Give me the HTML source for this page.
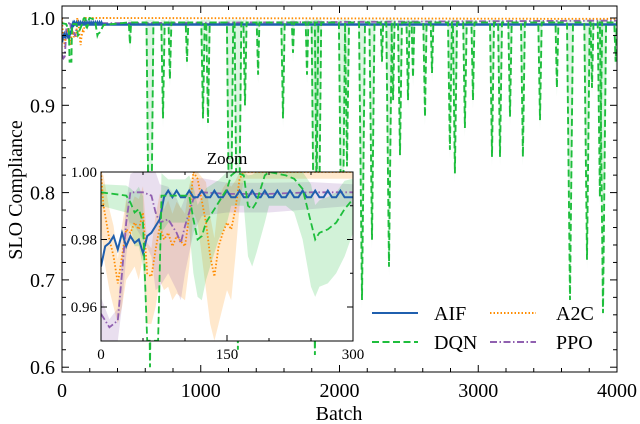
<!DOCTYPE html>
<html><head><meta charset="utf-8"><style>
html,body{margin:0;padding:0;background:#fff;}
svg{display:block;font-family:"Liberation Serif",serif;}
</style></head><body>
<svg id="c" width="640" height="424" viewBox="0 0 640 424"></svg>
<script>
// ---------- data ----------
const aifX = [0,5,10,15,20,25,30,35,40,45,50,55,60,65,70,75,80,85,90,95,100,105,110,115,120,125,130,135,140,145,150,155,160,165,170,175,180,185,190,195,200,205,210,215,220,225,230,235,240,245,250,255,260,265,270,275,280,285,290,295,300];
const aifY = [0.972,0.978,0.979,0.981,0.977,0.982,0.978,0.981,0.979,0.980,0.976,0.981,0.982,0.984,0.986,0.9925,0.9945,0.9925,0.9945,0.9925,0.9925,0.9945,0.9925,0.9925,0.9945,0.9925,0.9925,0.9945,0.9925,0.9925,0.9945,0.9925,0.9925,0.9945,0.9925,0.9925,0.9945,0.9925,0.9925,0.9945,0.9925,0.9925,0.9945,0.9925,0.9925,0.9945,0.9925,0.9925,0.9945,0.9925,0.9925,0.9945,0.9925,0.9925,0.9945,0.9925,0.9925,0.9945,0.9925,0.9925,0.9925];
const ppoX = [0,10,20,25,30,35,40,50,60,65,70,80,90,95,100,110,120,150,200,250,300];
const ppoY = [0.958,0.954,0.956,0.970,0.985,0.994,0.994,0.994,0.993,0.988,0.985,0.986,0.982,0.979,0.984,0.992,0.994,0.9935,0.9935,0.994,0.994];
const ppoLow = [0.950,0.950,0.950,0.960,0.975,0.985,0.984,0.980,0.975,0.965,0.966,0.970,0.965,0.962,0.970,0.982,0.987,0.988,0.988,0.989,0.990];
const a2cX = [0,3,10,15,20,25,30,35,40,45,50,55,60,65,70,75,80,85,90,100,105,110,115,125,130,135,140,145,150,155,160,165,170,300];
const a2cY = [1.0,0.99,0.98,0.975,0.967,0.975,0.983,0.982,0.985,0.983,0.988,0.970,0.969,0.977,0.984,0.980,0.982,0.978,0.981,0.978,0.987,1.0,0.998,0.985,0.975,0.969,0.978,0.982,0.985,0.983,0.989,0.998,1.0,1.0];
const a2cLow = [0.985,0.975,0.965,0.960,0.955,0.960,0.968,0.970,0.972,0.968,0.975,0.955,0.955,0.960,0.968,0.965,0.966,0.962,0.964,0.962,0.972,0.988,0.985,0.965,0.955,0.950,0.955,0.960,0.965,0.962,0.975,0.990,0.998,0.998];
const dqnX = [0,30,35,40,45,50,55,60,65,68,72,80,100,105,110,115,120,125,130,140,150,155,160,170,175,180,185,195,200,220,230,240,250,255,260,270,280,290,300];
const dqnY = [0.994,0.993,0.991,0.988,0.989,0.985,0.950,0.950,0.950,0.950,0.993,0.993,0.993,0.993,0.986,0.980,0.981,0.985,0.987,0.991,0.995,0.999,1.0,0.999,0.990,0.989,0.991,0.999,1.0,0.999,0.998,0.995,0.985,0.980,0.982,0.983,0.985,0.989,0.992];
const dqnLow = [0.990,0.988,0.984,0.978,0.978,0.972,0.950,0.950,0.950,0.950,0.982,0.985,0.985,0.983,0.970,0.963,0.962,0.968,0.972,0.980,0.985,0.990,0.990,0.990,0.975,0.972,0.976,0.985,0.990,0.990,0.988,0.980,0.966,0.963,0.966,0.967,0.970,0.975,0.982];
const dqnDipX = [490,634,728,778,901,1016,1052,1211,1268,1319,1413,1593,1665,1766,1823,1845,2018,2054,2162,2234,2306,2357,2386,2436,2494,2530,2616,2667,2796,2832,2904,2962,3099,3157,3229,3322,3445,3567,3661,3784,3820,3877,3899,3990];
const dqnDipY = [0.970,0.600,0.885,0.930,0.950,0.885,0.880,0.650,0.620,0.900,0.935,0.885,0.960,0.935,0.614,0.640,0.660,0.830,0.677,0.746,0.950,0.715,0.906,0.843,0.906,0.932,0.887,0.937,0.849,0.822,0.874,0.906,0.841,0.841,0.887,0.841,0.883,0.920,0.677,0.723,0.920,0.795,0.662,0.950];
const mainXTicks = [0,1000,2000,3000,4000];
const mainYTicks = [0.6,0.7,0.8,0.9,1.0];
const insetXTicks = [0,150,300];
const insetYTicks = [0.96,0.98,1.00];

// ---------- helpers ----------
const NS = "http://www.w3.org/2000/svg";
const svg = document.getElementById('c');
function mk(tag, attrs, parent){const e=document.createElementNS(NS,tag);for(const k in attrs)e.setAttribute(k,attrs[k]);(parent||svg).appendChild(e);return e;}
const M = {l:62,r:617,t:6,b:372};
const mx = v => M.l + v/4000*(M.r-M.l);
const my = v => 18 + (1.0 - v)*873;
const I = {l:101,r:353,t:172,b:341};
const ix = v => I.l + v/300*(I.r-I.l);
const iy = v => I.t + (1.0 - v)/0.02*67.5;
const COL = {aif:'#1f5fae', dqn:'#1ebe3c', a2c:'#ff8c00', ppo:'#9060b0'};
const DASH = {aif:'', dqn:'7,3.5', a2c:'1.5,2', ppo:'7,2.5,1.5,2.5'};

function pathOf(xs, ys, fx, fy){return xs.map((x,i)=>(i?'L':'M')+fx(x).toFixed(1)+','+fy(ys[i]).toFixed(1)).join('');}
function bandOf(xs, lo, ys, fx, fy){
  let d = xs.map((x,i)=>(i?'L':'M')+fx(x).toFixed(1)+','+fy(Math.min(1,ys[i]+(ys[i]-lo[i])*0.6)).toFixed(1)).join('');
  for(let i=xs.length-1;i>=0;i--) d+='L'+fx(xs[i]).toFixed(1)+','+fy(lo[i]).toFixed(1);
  return d+'Z';
}

const defs = mk('defs',{});
const cp1 = mk('clipPath',{id:'cm'},defs); mk('rect',{x:M.l,y:M.t,width:M.r-M.l,height:M.b-M.t},cp1);
const cp2 = mk('clipPath',{id:'ci'},defs); mk('rect',{x:I.l,y:I.t,width:I.r-I.l,height:I.b-I.t},cp2);

// ---------- main plot ----------
const gm = mk('g',{'clip-path':'url(#cm)'});



function extend(xs, ys, last){return [xs.concat([4000]), ys.concat([last])];}
const [aX,aY] = extend(aifX,aifY,0.9925);
const [pX,pY] = extend(ppoX,ppoY,0.997);
const [cX,cY] = extend(a2cX,a2cY,0.999);
let qX = dqnX.slice(), qY = dqnY.slice();
for(let i=0;i<dqnDipX.length;i++){
  const b = dqnDipX[i], w = 7 + (1-dqnDipY[i])*45;
  qX.push(b-w); qY.push(0.995);
  qX.push(b); qY.push(dqnDipY[i]);
  qX.push(b+w); qY.push(0.995);
}
qX.push(4000); qY.push(0.995);

for(let i=0;i<dqnDipX.length;i++){
  const b=dqnDipX[i], w=10+(1-dqnDipY[i])*55;
  const band = mk('path',{d:`M${mx(b-w)},${my(0.998)}L${mx(b)},${my(dqnDipY[i]-0.01)}L${mx(b+w)},${my(0.998)}Z`,fill:COL.dqn,'fill-opacity':0.15},gm);
  
  
}
const seriesMain = [['a2c',cX,cY],['ppo',pX,pY],['aif',aX,aY],['dqn',qX,qY]];
for(const [k,xs,ys] of seriesMain){
  const p = mk('path',{d:pathOf(xs,ys,mx,my),fill:'none',stroke:COL[k],'stroke-width':k==='aif'?2.4:1.9,'stroke-dasharray':DASH[k]},gm);
  
  
}

const fr = mk('rect',{x:M.l,y:M.t,width:M.r-M.l,height:M.b-M.t,fill:'none',stroke:'#000','stroke-width':1});


for(let v=0; v<=4000; v+=200){
  const L = v%1000===0?7:4;
  mk('line',{x1:mx(v),x2:mx(v),y1:M.b,y2:M.b-L,stroke:'#000'});
  mk('line',{x1:mx(v),x2:mx(v),y1:M.t,y2:M.t+L,stroke:'#000'});
}
for(let v=0.6; v<=1.0001; v+=0.02){
  const L = Math.abs(v*10-Math.round(v*10))<1e-6?7:4;
  mk('line',{x1:M.l,x2:M.l+L,y1:my(v),y2:my(v),stroke:'#000'});
  mk('line',{x1:M.r,x2:M.r-L,y1:my(v),y2:my(v),stroke:'#000'});
}
for(const v of mainXTicks){
  const t = mk('text',{x:mx(v),y:397,'text-anchor':'middle','font-size':20},svg); t.textContent=v;
  
  
}
for(const v of mainYTicks){
  const t = mk('text',{x:55,y:my(v)+7,'text-anchor':'end','font-size':20},svg); t.textContent=v.toFixed(1);
  
  
}
const xt = mk('text',{x:339,y:420,'text-anchor':'middle','font-size':20}); xt.textContent='Batch';


const yt = mk('text',{x:0,y:0,'text-anchor':'middle','font-size':20,transform:'translate(22,190) rotate(-90)'}); yt.textContent='SLO Compliance';



// ---------- legend ----------
const legend = [['aif','AIF',372,313],['a2c','A2C',490,313],['dqn','DQN',372,342],['ppo','PPO',490,342]];
const gl = mk('g',{});


for(const [k,lab,x,y] of legend){
  const g = mk('g',{},gl);
  
  
  mk('line',{x1:x,x2:x+46,y1:y,y2:y,stroke:COL[k],'stroke-width':2,'stroke-dasharray':DASH[k]},g);
  const t = mk('text',{x:x+(k==='aif'||k==='dqn'?62:66),y:y+7,'font-size':20},g); t.textContent=lab;
}

// ---------- inset ----------
const ib = mk('rect',{x:I.l,y:I.t,width:I.r-I.l,height:I.b-I.t,fill:'#fff'});


const gi = mk('g',{'clip-path':'url(#ci)'});


const bands = [['a2c',a2cX,a2cLow,a2cY],['ppo',ppoX,ppoLow,ppoY],['dqn',dqnX,dqnLow,dqnY]];
for(const [k,xs,lo,ys] of bands){
  const b = mk('path',{d:bandOf(xs,lo,ys,ix,iy),fill:COL[k],'fill-opacity':0.2},gi);
  
  
}
const seriesInset = [['a2c',a2cX,a2cY],['ppo',ppoX,ppoY],['aif',aifX,aifY],['dqn',dqnX,dqnY]];
for(const [k,xs,ys] of seriesInset){
  const p = mk('path',{d:pathOf(xs,ys,ix,iy),fill:'none',stroke:COL[k],'stroke-width':k==='aif'?2:1.8,'stroke-dasharray':DASH[k]},gi);
  
  
}
const ifr = mk('rect',{x:I.l,y:I.t,width:I.r-I.l,height:I.b-I.t,fill:'none',stroke:'#000','stroke-width':1});


for(let v=0; v<=300; v+=50){
  const L = v%150===0?6:3;
  mk('line',{x1:ix(v),x2:ix(v),y1:I.b,y2:I.b-L,stroke:'#000'});
  mk('line',{x1:ix(v),x2:ix(v),y1:I.t,y2:I.t+L,stroke:'#000'});
}
for(let v=0.96; v<=1.0001; v+=0.01){
  const L = Math.round(v*100)%2===0?6:3;
  mk('line',{x1:I.l,x2:I.l+L,y1:iy(v),y2:iy(v),stroke:'#000'});
  mk('line',{x1:I.r,x2:I.r-L,y1:iy(v),y2:iy(v),stroke:'#000'});
}
for(const v of insetXTicks){
  const t = mk('text',{x:ix(v),y:359,'text-anchor':'middle','font-size':15}); t.textContent=v;
  
  
}
for(const v of insetYTicks){
  const t = mk('text',{x:I.l-4,y:iy(v)+5,'text-anchor':'end','font-size':15}); t.textContent=v.toFixed(2);
  
  
}
const zt = mk('text',{x:227,y:164,'text-anchor':'middle','font-size':17}); zt.textContent='Zoom';


</script>
</body></html>
